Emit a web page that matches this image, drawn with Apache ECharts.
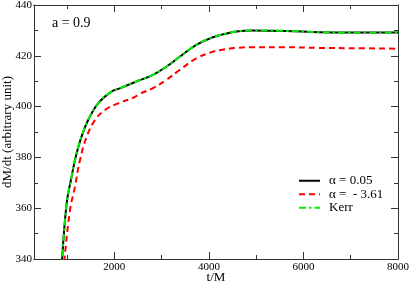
<!DOCTYPE html>
<html>
<head>
<meta charset="utf-8">
<script src="https://cdn.jsdelivr.net/npm/echarts@6/dist/echarts.min.js"></script>
<style>html,body{margin:0;padding:0;background:#fff}#c{width:409px;height:284px}</style>
</head>
<body>
<div id="c"></div>
<script>
// t/M values and dM/dt values
var tBlack = [880, 985, 1095, 1201, 1306, 1446, 1657, 1939, 2115, 2431, 2537, 2817, 3098, 3381, 3733, 4083, 4400, 4576, 4921, 5638, 6334, 7000, 8000];
var vBlack = [335, 361, 372.4, 381.6, 388.2, 394.7, 401.3, 405.9, 407.2, 409.6, 410.4, 412.5, 415.7, 419.6, 424.3, 427.3, 428.9, 429.6, 430.0, 429.8, 429.3, 429.2, 429.2];
var tRed = [925, 945, 1062, 1167, 1273, 1415, 1590, 1802, 2083, 2401, 2537, 2817, 3098, 3381, 3733, 4083, 4225, 4576, 4921, 5600, 6300, 7000, 8000];
var vRed = [335, 340, 359.3, 368.5, 379, 388.2, 394.7, 398.7, 401.3, 403.5, 405.0, 407.3, 410.5, 414.4, 419.0, 421.6, 422.2, 423.1, 423.4, 423.4, 423.1, 423.0, 422.8];
var tKerr = [880, 985, 1095, 1201, 1306, 1446, 1657, 1939, 2115, 2431, 2537, 2817, 3098, 3381, 3733, 4083, 4400, 4576, 4921, 5638, 6334, 7000, 8000];
var vKerr = [335, 361, 372.4, 381.6, 388.2, 394.7, 401.3, 405.9, 407.2, 409.6, 410.4, 412.5, 415.7, 419.6, 424.3, 427.3, 428.9, 429.6, 430.0, 429.8, 429.3, 429.2, 429.2];
var names = ['α = 0.05', 'α =  - 3.61', 'Kerr'];
var xMajor = [2000, 4000, 6000, 8000];
var xMinor = [1000, 3000, 5000, 7000];
var xMin = 300, xMax = 8000, yMin = 340, yMax = 440, yStep = 20;

function zip(a, b) { return a.map(function (v, i) { return [v, b[i]]; }); }

var font = 'Liberation Serif';
var axisLineStyle = { color: '#333', width: 1 };
function plain(v) { return String(v); }
function xAxisDef(pos, ticks, len, labels) {
  return {
    type: 'value', position: pos, min: xMin, max: xMax,
    axisLine: { show: true, onZero: false, lineStyle: axisLineStyle },
    axisTick: { show: true, inside: true, length: len, customValues: ticks, lineStyle: axisLineStyle },
    axisLabel: labels ? { show: true, customValues: ticks, margin: 3, fontFamily: font, fontSize: 11, color: '#000', formatter: plain } : { show: false },
    splitLine: { show: false }
  };
}
var chart = echarts.init(document.getElementById('c'), null, { renderer: 'canvas' });
var xa0 = xAxisDef('bottom', xMajor, 7, true);
xa0.name = 't/M'; xa0.nameLocation = 'middle'; xa0.nameGap = 12; xa0.nameMoveOverlap = false;
xa0.nameTextStyle = { fontFamily: font, fontSize: 13, color: '#000' };
chart.setOption({
  animation: false,
  backgroundColor: '#fff',
  grid: { left: 34, right: 11, top: 5, bottom: 25, containLabel: false, outerBoundsMode: 'none' },
  xAxis: [xa0, xAxisDef('bottom', xMinor, 4, false), xAxisDef('top', xMajor, 7, false), xAxisDef('top', xMinor, 4, false)],
  yAxis: [
    { type: 'value', position: 'left', min: yMin, max: yMax, interval: yStep,
      name: 'dM/dt (arbitrary unit)', nameLocation: 'middle', nameGap: 20, nameMoveOverlap: false,
      nameTextStyle: { fontFamily: font, fontSize: 13, color: '#000' },
      axisLine: { show: true, onZero: false, lineStyle: axisLineStyle },
      axisTick: { show: true, inside: true, length: 7, lineStyle: axisLineStyle },
      minorTick: { show: true, splitNumber: 2, length: 4, lineStyle: axisLineStyle },
      axisLabel: { margin: 2, fontFamily: font, fontSize: 11, color: '#000', formatter: plain },
      splitLine: { show: false } },
    { type: 'value', position: 'right', min: yMin, max: yMax, interval: yStep,
      axisLine: { show: true, onZero: false, lineStyle: axisLineStyle },
      axisTick: { show: true, inside: true, length: 7, lineStyle: axisLineStyle },
      minorTick: { show: true, splitNumber: 2, length: 4, lineStyle: axisLineStyle },
      axisLabel: { show: false }, splitLine: { show: false } }
  ],
  legend: {
    orient: 'vertical', left: 293, top: 169, itemWidth: 21, itemHeight: 10, itemGap: 0,
    itemStyle: { opacity: 0 },
    textStyle: { fontFamily: font, fontSize: 13, color: '#000', lineHeight: 13.5, padding: [0, 0, 0, 4] },
    data: names
  },
  graphic: [{ type: 'text', x: 52, y: 23, style: { text: 'a = 0.9', font: '14px "Liberation Serif"', fill: '#000', verticalAlign: 'middle' } }],
  series: [
    { name: names[0], type: 'line', data: zip(tBlack, vBlack), symbol: 'none', smooth: 0.4, clip: true,
      lineStyle: { color: '#000', width: 2, type: 'solid' }, itemStyle: { color: '#000' } },
    { name: names[1], type: 'line', data: zip(tRed, vRed), symbol: 'none', smooth: 0.4, clip: true,
      lineStyle: { color: '#ff0000', width: 2, type: [6, 4] }, itemStyle: { color: '#ff0000' } },
    { name: names[2], type: 'line', data: zip(tKerr, vKerr), symbol: 'none', smooth: 0.4, clip: true,
      lineStyle: { color: '#00ee00', width: 2, type: [7, 3, 2.5, 3] }, itemStyle: { color: '#00ee00' } }
  ]
});
</script>
</body>
</html>
